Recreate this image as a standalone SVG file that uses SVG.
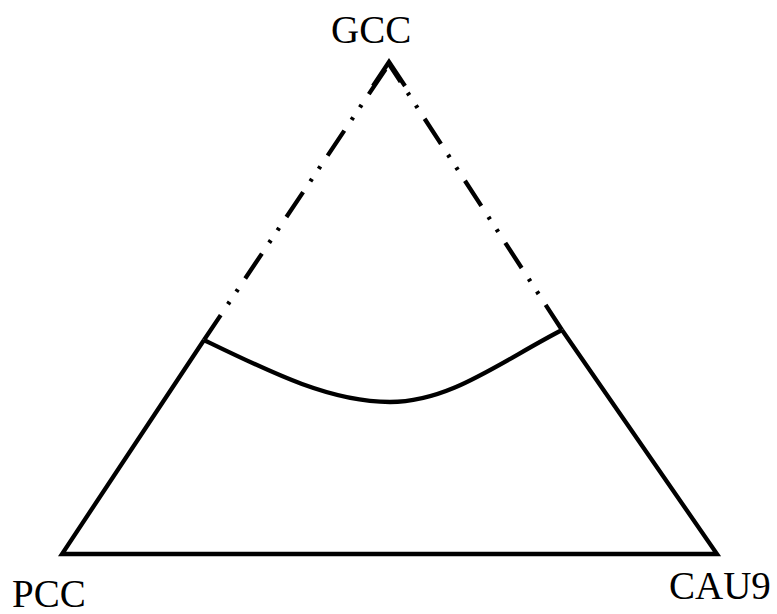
<svg xmlns="http://www.w3.org/2000/svg" width="777" height="614" viewBox="0 0 777 614">
<style>
.l{fill:none;stroke:#000;stroke-width:4.3;stroke-linejoin:miter}
.d{fill:none;stroke:#000;stroke-width:4.3;stroke-dasharray:30 13 3 12 3 13}
text{font-family:"Liberation Serif","Times New Roman",serif;font-size:39px;fill:#000}
</style>
<rect width="777" height="614" fill="#fff"/>
<g id="connectors">
<path class="d" d="M204,340 L389,64"/>
<path class="d" d="M562,330 L389,64"/>
<path class="l" d="M373,86 L389,62 L405,86"/>
<path class="l" d="M204,340 L62,554 L717,554 L562,330"/>
<path class="l" d="M204,340 C270,372 330,402 390,402 C450,402 500,362 562,330"/>
</g>
<g id="GCC"><text x="331" y="43">GCC</text></g>
<g id="PCC"><text x="12" y="607">PCC</text></g>
<g id="CAU9"><text x="669" y="599">CAU9</text></g>
</svg>
